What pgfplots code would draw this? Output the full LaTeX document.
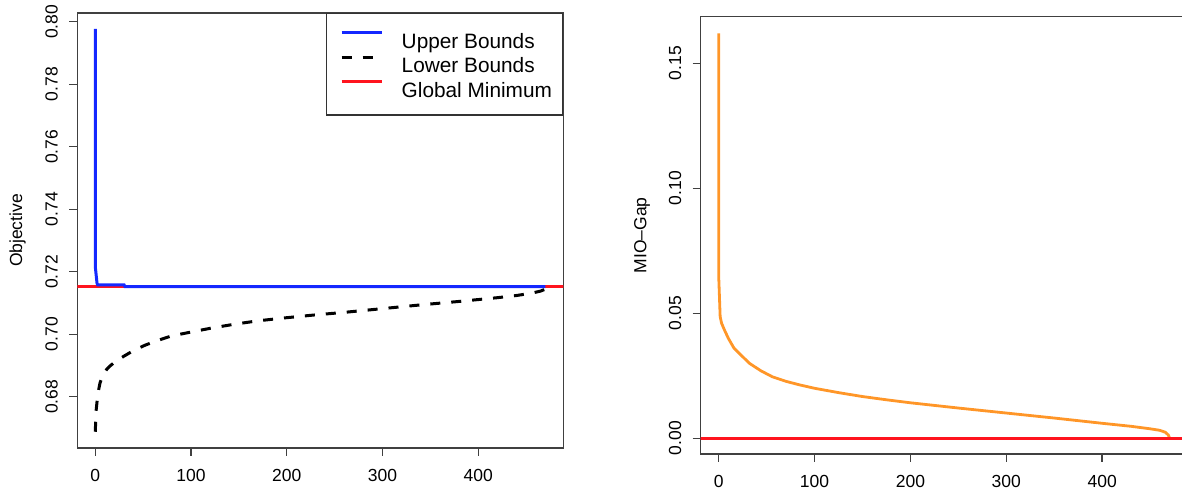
\documentclass[border=0pt]{standalone}
\usepackage{fontspec}
\setmainfont{Liberation Sans}
\usepackage{pgfplots}
\pgfplotsset{compat=1.18}
\definecolor{ubblue}{RGB}{20,40,255}
\definecolor{gmred}{RGB}{255,20,30}
\definecolor{gaporange}{RGB}{255,150,40}
\pgfplotsset{
  rstyle/.style={
    scale only axis,
    anchor=south west,
    axis line style={black!75, line width=0.7pt},
    tick style={black!75, line width=0.7pt},
    tick align=outside,
    major tick length=4pt,
    tick pos=left,
    ticklabel style={font=\fontsize{8.75}{10}\selectfont},
    label style={font=\fontsize{8.75}{10}\selectfont},
    /pgf/number format/assume math mode=true,
    xtick={0,100,200,300,400},
    xmin=-18.8, xmax=488.8,
    xticklabel style={inner sep=0pt, anchor=north, yshift=-6.5pt},
    yticklabel style={inner sep=0pt, xshift=-5.5pt, rotate=90, anchor=south},
    y tick label style={/pgf/number format/.cd, fixed, fixed zerofill, precision=2},
    clip=true,
  }
}
\begin{document}
\begin{tikzpicture}
\useasboundingbox (0,0) rectangle (591pt,245.5pt);
\clip (0,0) rectangle (591pt,245.5pt);
% left panel
\begin{axis}[rstyle,
  at={(38.65pt,21.5pt)},
  width=243pt, height=217.5pt,
  ymin=0.6636, ymax=0.8028,
  ytick={0.68,0.70,0.72,0.74,0.76,0.78,0.80},
  ylabel={Objective},
  ylabel style={at={(axis description cs:-0.123,0.5)}, anchor=center},
  legend style={at={(1,1)}, anchor=north east, draw=black!80, line width=0.7pt,
    font=\fontsize{10.4}{12}\selectfont,
    inner xsep=5.3pt, inner ysep=8.3pt, row sep=2.75pt, column sep=9.35pt,
    nodes={inner sep=0pt, text height=9pt, text depth=0.5pt},
    cells={anchor=west}},
  legend image code/.code={\path (0pt,0pt); \draw[#1] (1.5pt,3.6pt) -- (21.5pt,3.6pt);},
]
\addlegendimage{ubblue, line width=1.5pt}
\addlegendentry{Upper Bounds}
\addlegendimage{black, line width=1.5pt, dash pattern=on 5pt off 5.5pt}
\addlegendentry{Lower Bounds}
\addlegendimage{gmred, line width=1.4pt}
\addlegendentry{Global Minimum}
\addplot[gmred, line width=1.4pt, forget plot] coordinates {(-30,0.7152) (500,0.7152)};
\addplot[ubblue, line width=1.5pt, forget plot] coordinates {
(0,0.7977) (0,0.7216) (1.8,0.7163) (2.5,0.7158) (30,0.7158) (31,0.7152) (470,0.7152)};
\addplot[black, line width=1.5pt, dash pattern=on 5pt off 5.5pt, forget plot] coordinates {
(0,0.6688) (0.5,0.6730) (1,0.6760) (2,0.6790) (3,0.6815) (5,0.6845) (8,0.6870)
(12,0.6888) (16,0.6900) (22,0.6915) (30,0.6930) (40,0.6948) (52,0.6965) (65,0.6980)
(80,0.6995) (100,0.7007) (120,0.7019) (145,0.7032) (170,0.7043) (200,0.7053)
(230,0.7062) (260,0.7070) (300,0.7082) (340,0.7094) (380,0.7105) (420,0.7117)
(440,0.7124) (455,0.7131) (465,0.7138) (469,0.7143) (470,0.7152)};
\end{axis}
% right panel
\begin{axis}[rstyle,
  at={(350.35pt,18.5pt)},
  width=243.3pt, height=218.65pt,
  ymin=-0.00628, ymax=0.16864,
  ytick={0,0.05,0.10,0.15},
  ylabel={MIO–Gap},
  ylabel style={at={(axis description cs:-0.1206,0.5)}, anchor=center},
]
\addplot[gaporange, line width=1.4pt] coordinates {
(0,0.162) (0,0.0646) (1.5,0.0486) (3,0.046) (6,0.0433) (10,0.040) (16,0.036)
(24,0.033) (32,0.030) (44,0.027) (56,0.0246) (70,0.0228) (84,0.0214) (100,0.0200)
(126,0.0182) (150,0.0167) (175,0.0154) (200,0.0142) (250,0.0121) (300,0.0101)
(350,0.0081) (400,0.0060) (430,0.0048) (450,0.0038) (460,0.0032) (466,0.0024)
(469,0.0013) (470,0.0004) (470.5,0)};
\addplot[gmred, line width=1.4pt] coordinates {(-30,0) (500,0)};
\end{axis}
\end{tikzpicture}
\end{document}
